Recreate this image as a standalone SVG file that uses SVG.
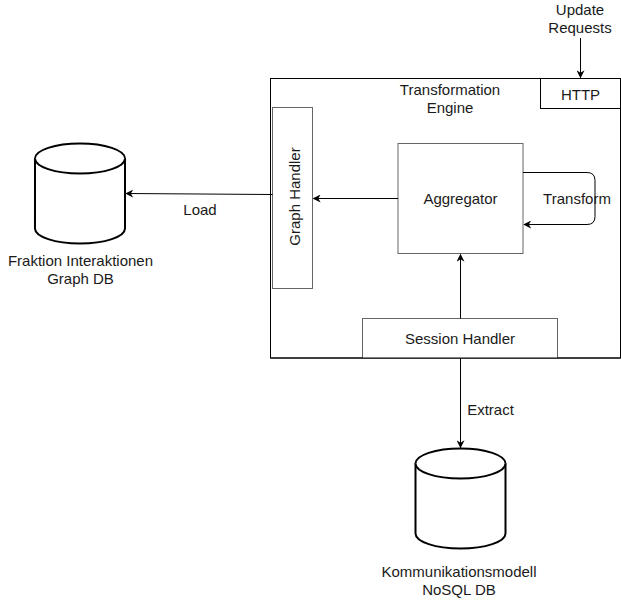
<svg xmlns="http://www.w3.org/2000/svg" width="621" height="601" viewBox="0 0 621 601">
<style>
text{font-family:"Liberation Sans",Arial,sans-serif;font-size:15px;fill:#1a1a1a;text-anchor:middle}
.box{fill:#fff;stroke:#000;stroke-width:1}
.gbox{fill:#fff;stroke:#666;stroke-width:1}
.cyl{fill:#fff;stroke:#000;stroke-width:2}
.edge{fill:none;stroke:#000;stroke-width:1}
</style>
<defs>
<marker id="arr" viewBox="0 0 10 10" refX="9" refY="5" markerWidth="8" markerHeight="8" markerUnits="userSpaceOnUse" orient="auto">
<path d="M0,0 L10,5 L0,10 L3,5 Z" fill="#000"/>
</marker>
</defs>
<g id="engine">
<rect class="box" x="270.5" y="78.5" width="350" height="279.5"/>
<text x="450" y="95">Transformation</text>
<text x="450" y="113">Engine</text>
</g>
<g id="http">
<rect class="box" x="540.5" y="78.5" width="80" height="30"/>
<text x="580.5" y="99.5">HTTP</text>
</g>
<g id="graph-handler">
<rect class="gbox" x="272.5" y="107.5" width="40" height="181"/>
<text x="300" y="196.5" transform="rotate(-90 300 196.5)">Graph Handler</text>
</g>
<g id="aggregator">
<rect class="gbox" x="398" y="143.5" width="125" height="110"/>
<text x="460.5" y="204">Aggregator</text>
</g>
<g id="session-handler">
<rect class="gbox" x="362.5" y="318.5" width="195" height="40"/>
<path d="M270.5,358 H620.5" stroke="#000" fill="none"/>
<text x="460" y="344">Session Handler</text>
</g>
<g id="graph-db">
<path class="cyl" d="M35,158.5 A45,15 0 0 1 125,158.5 V228.5 A45,15 0 0 1 35,228.5 Z"/>
<path class="cyl" fill="none" d="M35,158.5 A45,15 0 0 0 125,158.5"/>
<text x="80.5" y="266">Fraktion Interaktionen</text>
<text x="80.5" y="284">Graph DB</text>
</g>
<g id="nosql-db">
<path class="cyl" d="M415.5,463.5 A45,15 0 0 1 505.5,463.5 V533.5 A45,15 0 0 1 415.5,533.5 Z"/>
<path class="cyl" fill="none" d="M415.5,463.5 A45,15 0 0 0 505.5,463.5"/>
<text x="459" y="577">Kommunikationsmodell</text>
<text x="459" y="595">NoSQL DB</text>
</g>
<g id="connectors">
<path class="edge" d="M580.5,38 V77.5" marker-end="url(#arr)"/>
<path class="edge" d="M398,198.5 H313.5" marker-end="url(#arr)"/>
<path class="edge" d="M272.5,194.5 L126,193.5" marker-end="url(#arr)"/>
<path class="edge" stroke="#333" d="M523,172.5 H587 Q595,172.5 595,180.5 V216.5 Q595,224.5 587,224.5 H524" marker-end="url(#arr)"/>
<path class="edge" d="M460.5,318.5 V254.5" marker-end="url(#arr)"/>
<path class="edge" d="M460.5,358 V447.5" marker-end="url(#arr)"/>
<text x="580" y="15">Update</text>
<text x="580" y="33">Requests</text>
<text x="200" y="214.5">Load</text>
<text x="577" y="204">Transform</text>
<text x="490.5" y="414.5">Extract</text>
</g>
</svg>
